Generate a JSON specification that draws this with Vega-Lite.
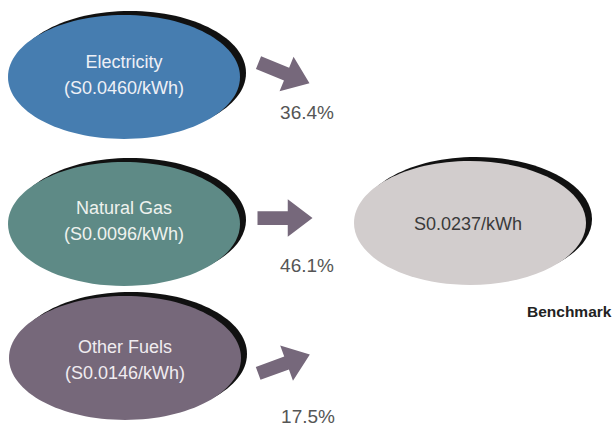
{
  "$schema": "https://vega.github.io/schema/vega-lite/v6.json",
  "autosize": {"type": "fit", "contains": "padding"},
  "width": 615,
  "height": 430,
  "padding": 0,
  "background": "white",
  "config": {"view": {"stroke": null}},
  "datasets": {
    "ellipses": [
      {"kind": "Electricity", "x": 124, "y": 77},
      {"kind": "Natural Gas", "x": 124, "y": 224},
      {"kind": "Other Fuels", "x": 125, "y": 358},
      {"kind": "Benchmark", "x": 470, "y": 223}
    ],
    "labels": [
      {"kind": "Electricity", "text": "Electricity", "x": 124, "y": 63},
      {"kind": "Electricity", "text": "(S0.0460/kWh)", "x": 124, "y": 89},
      {"kind": "Natural Gas", "text": "Natural Gas", "x": 124, "y": 209},
      {"kind": "Natural Gas", "text": "(S0.0096/kWh)", "x": 124, "y": 235},
      {"kind": "Other Fuels", "text": "Other Fuels", "x": 125, "y": 348},
      {"kind": "Other Fuels", "text": "(S0.0146/kWh)", "x": 125, "y": 374},
      {"kind": "Benchmark", "text": "S0.0237/kWh", "x": 468, "y": 225}
    ],
    "arrows": [
      {"src": "Electricity", "x": 284, "y": 73, "angle": 22},
      {"src": "Natural Gas", "x": 285, "y": 218, "angle": 0},
      {"src": "Other Fuels", "x": 284, "y": 364, "angle": -20}
    ],
    "pcts": [
      {"src": "Electricity", "text": "36.4%", "x": 307, "y": 113},
      {"src": "Natural Gas", "text": "46.1%", "x": 307, "y": 266},
      {"src": "Other Fuels", "text": "17.5%", "x": 308, "y": 417}
    ],
    "notes": [
      {"text": "Benchmark", "x": 527, "y": 312}
    ]
  },
  "layer": [
    {
      "data": {"name": "ellipses"},
      "mark": {
        "type": "point",
        "filled": true,
        "shape": "M -1 0 C -1 -0.295 -0.5523 -0.534 0 -0.534 C 0.5523 -0.534 1 -0.295 1 0 C 1 0.295 0.5523 0.534 0 0.534 C -0.5523 0.534 -1 0.295 -1 0 Z",
        "size": 53824,
        "color": "#111111",
        "opacity": 1,
        "xOffset": 6,
        "yOffset": -4
      },
      "encoding": {
        "x": {"field": "x", "type": "quantitative", "scale": {"domain": [0, 615], "nice": false, "zero": false}, "axis": null},
        "y": {"field": "y", "type": "quantitative", "scale": {"domain": [0, 430], "nice": false, "zero": false, "reverse": true}, "axis": null}
      }
    },
    {
      "data": {"name": "ellipses"},
      "mark": {
        "type": "point",
        "filled": true,
        "shape": "M -1 0 C -1 -0.295 -0.5523 -0.534 0 -0.534 C 0.5523 -0.534 1 -0.295 1 0 C 1 0.295 0.5523 0.534 0 0.534 C -0.5523 0.534 -1 0.295 -1 0 Z",
        "size": 53824,
        "opacity": 1
      },
      "encoding": {
        "x": {"field": "x", "type": "quantitative"},
        "y": {"field": "y", "type": "quantitative"},
        "color": {
          "field": "kind", "type": "nominal", "legend": null,
          "scale": {"domain": ["Electricity", "Natural Gas", "Other Fuels", "Benchmark"], "range": ["#467db0", "#5e8a86", "#76687a", "#d2cdcd"]}
        }
      }
    },
    {
      "data": {"name": "labels"},
      "mark": {"type": "text", "font": "Liberation Sans", "fontSize": 18, "align": "center", "baseline": "middle"},
      "encoding": {
        "x": {"field": "x", "type": "quantitative"},
        "y": {"field": "y", "type": "quantitative"},
        "text": {"field": "text"},
        "fill": {
          "field": "kind", "type": "nominal", "legend": null,
          "scale": {"domain": ["Electricity", "Natural Gas", "Other Fuels", "Benchmark"], "range": ["#eef0f6", "#eef2ee", "#f0ecf0", "#3a3a3a"]}
        }
      }
    },
    {
      "data": {"name": "arrows"},
      "mark": {
        "type": "point",
        "filled": true,
        "shape": "M -1 -0.25 L 0.1 -0.25 L 0.1 -0.68 L 1 0 L 0.1 0.68 L 0.1 0.25 L -1 0.25 Z",
        "size": 3025,
        "color": "#76687b",
        "opacity": 1
      },
      "encoding": {
        "x": {"field": "x", "type": "quantitative"},
        "y": {"field": "y", "type": "quantitative"},
        "angle": {"field": "angle", "type": "quantitative", "scale": {"domain": [-360, 360], "range": [-360, 360]}}
      }
    },
    {
      "data": {"name": "pcts"},
      "mark": {"type": "text", "font": "Liberation Sans", "fontSize": 19, "align": "center", "baseline": "middle", "color": "#555555"},
      "encoding": {
        "x": {"field": "x", "type": "quantitative"},
        "y": {"field": "y", "type": "quantitative"},
        "text": {"field": "text"}
      }
    },
    {
      "data": {"name": "notes"},
      "mark": {"type": "text", "font": "Liberation Sans", "fontSize": 15.5, "fontWeight": "bold", "align": "left", "baseline": "middle", "color": "#222222"},
      "encoding": {
        "x": {"field": "x", "type": "quantitative"},
        "y": {"field": "y", "type": "quantitative"},
        "text": {"field": "text"}
      }
    }
  ]
}
